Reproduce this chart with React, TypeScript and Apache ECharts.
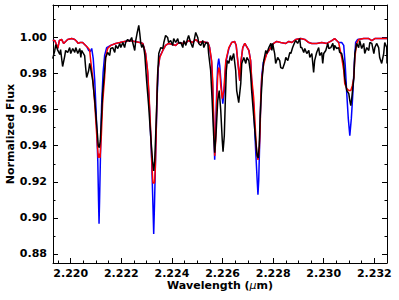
import React, { useEffect, useRef } from "react";
import * as echarts from "echarts";

// ---- data ----
const obsWave = [
  2.21929, 2.21937, 2.21941, 2.21949, 2.21957, 2.2196, 2.21968, 2.21976, 2.2198, 2.21988,
  2.21996, 2.22, 2.22008, 2.22016, 2.2202, 2.22028, 2.22036, 2.2204, 2.22043, 2.22055,
  2.22059, 2.22063, 2.22071, 2.22075, 2.22079, 2.22087, 2.22095, 2.22103, 2.22109, 2.22113,
  2.22117, 2.22122, 2.22126, 2.22134, 2.22138, 2.22146, 2.22154, 2.22158, 2.22166, 2.22174,
  2.22178, 2.22186, 2.22194, 2.22198, 2.22206, 2.22213, 2.22217, 2.22225, 2.22233, 2.22241,
  2.22245, 2.22253, 2.22257, 2.22263, 2.22269, 2.22273, 2.22277, 2.22281, 2.22285, 2.22289,
  2.22293, 2.223, 2.22308, 2.22316, 2.22324, 2.22328, 2.22332, 2.22338, 2.22344, 2.22348,
  2.22356, 2.22364, 2.22368, 2.22375, 2.22383, 2.22387, 2.22395, 2.22403, 2.22407, 2.22415,
  2.22423, 2.22427, 2.22435, 2.22443, 2.22447, 2.22455, 2.22462, 2.22466, 2.22474, 2.22482,
  2.22486, 2.22494, 2.22502, 2.22506, 2.22514, 2.22522, 2.22526, 2.22534, 2.22542, 2.22545,
  2.22553, 2.22559, 2.22565, 2.22569, 2.22575, 2.22581, 2.22587, 2.22593, 2.22599, 2.22602,
  2.22607, 2.22611, 2.22615, 2.22619, 2.22625, 2.22631, 2.22636, 2.22644, 2.22652, 2.22656,
  2.22664, 2.22672, 2.22676, 2.22684, 2.22692, 2.22696, 2.22704, 2.22711, 2.22715, 2.22723,
  2.22731, 2.22737, 2.22741, 2.22745, 2.22749, 2.22753, 2.22757, 2.22763, 2.22771, 2.22775,
  2.22783, 2.22791, 2.22795, 2.22798, 2.22806, 2.2281, 2.22818, 2.22826, 2.2283, 2.22838,
  2.22846, 2.2285, 2.22858, 2.22866, 2.2287, 2.22877, 2.22885, 2.22889, 2.22897, 2.22905,
  2.22909, 2.22913, 2.22921, 2.22925, 2.22933, 2.22941, 2.22945, 2.22953, 2.2296, 2.22964,
  2.22972, 2.2298, 2.22984, 2.22992, 2.22996, 2.23, 2.23008, 2.23016, 2.2302, 2.23028,
  2.23036, 2.2304, 2.23043, 2.23051, 2.23059, 2.23063, 2.23071, 2.23079, 2.23083, 2.23091,
  2.23099, 2.23103, 2.23107, 2.23111, 2.23119, 2.23123, 2.2313, 2.23138, 2.23142, 2.2315,
  2.23158, 2.23162, 2.2317, 2.23178, 2.23182, 2.2319, 2.23198, 2.23202, 2.23209, 2.23217,
  2.23221, 2.23229, 2.23237, 2.23241, 2.23249, 2.2325,
];
const obsFlux = [
  0.9883, 0.9928, 0.9961, 0.9928, 0.9906, 0.9933, 0.9839, 0.9894, 0.9928, 0.9917,
  0.9944, 0.9911, 0.9939, 0.9917, 0.9944, 0.9911, 0.9939, 0.9889, 0.9928, 0.99,
  0.9833, 0.9778, 0.9817, 0.9856, 0.9828, 0.9761, 0.965, 0.9511, 0.94, 0.9389,
  0.9428, 0.9567, 0.9689, 0.9817, 0.9889, 0.9917, 0.99, 0.9939, 0.9944, 0.9917,
  0.9956, 0.9939, 0.9967, 0.9944, 0.9972, 0.9944, 0.9972, 0.9989, 0.9978, 1.0,
  0.9972, 0.9928, 0.9983, 1.0028, 1.0067, 1.0022, 0.9967, 0.9944, 0.9961, 0.9944,
  0.99, 0.9761, 0.9622, 0.9456, 0.9306, 0.9261, 0.9317, 0.9539, 0.9806, 0.9911,
  0.9944, 0.9939, 0.9972, 1.0011, 1.0, 0.9972, 0.9983, 0.9956, 0.9994, 0.9972,
  0.9994, 0.9967, 0.9972, 0.9944, 0.9983, 0.9956, 0.9994, 1.0011, 0.9972, 0.9944,
  0.9972, 1.0028, 1.0, 0.9967, 0.9956, 0.9983, 0.9944, 0.9972, 0.9967, 0.9911,
  0.9817, 0.965, 0.9456, 0.9361, 0.9483, 0.965, 0.9706, 0.9594, 0.9428, 0.9367,
  0.9456, 0.965, 0.9817, 0.9872, 0.9856, 0.99, 0.9872, 0.9911, 0.9817, 0.9706,
  0.9639, 0.9744, 0.9856, 0.9889, 0.9856, 0.9889, 0.9872, 0.98, 0.9706, 0.9567,
  0.9428, 0.9344, 0.9333, 0.94, 0.9567, 0.9678, 0.9778, 0.9872, 0.9928, 0.9911,
  0.9944, 0.9967, 0.9928, 0.9967, 0.9911, 0.9856, 0.9889, 0.9872, 0.9833, 0.9828,
  0.9861, 0.9889, 0.9872, 0.9917, 0.9911, 0.9944, 0.9972, 0.9983, 0.9967, 0.9994,
  0.9944, 0.9944, 0.9917, 0.9939, 0.9911, 0.9928, 0.9889, 0.9911, 0.9806, 0.9872,
  0.9917, 0.9944, 0.99, 0.9917, 0.9856, 0.9911, 0.9928, 0.9967, 0.9939, 0.9944,
  0.9967, 0.9928, 0.9956, 0.9939, 0.9944, 0.9917, 0.9911, 0.9856, 0.9778, 0.9706,
  0.9689, 0.965, 0.9622, 0.9667, 0.9778, 0.9911, 0.9967, 0.9944, 0.9983, 0.9939,
  0.9967, 0.9911, 0.9944, 0.9928, 0.9972, 0.9967, 0.9911, 0.9944, 0.9967, 0.9944,
  0.9889, 0.9856, 0.9911, 0.9972, 0.9944, 0.9856,
];

const redWave = [
  2.21929, 2.21937, 2.21945, 2.21949, 2.21955, 2.21964, 2.21972, 2.2198, 2.21988, 2.22004,
  2.22016, 2.22024, 2.2203, 2.22036, 2.22047, 2.22055, 2.22063, 2.22071, 2.22075, 2.22079,
  2.22087, 2.22095, 2.22103, 2.22109, 2.22112, 2.22116, 2.22121, 2.22126, 2.22134, 2.22138,
  2.22146, 2.22158, 2.22178, 2.22194, 2.22213, 2.22233, 2.22253, 2.22273, 2.22285, 2.22296,
  2.22304, 2.2231, 2.22316, 2.22322, 2.22325, 2.22331, 2.22334, 2.22338, 2.2234, 2.22344,
  2.22352, 2.22364, 2.22375, 2.22387, 2.22403, 2.22415, 2.22427, 2.22443, 2.22455, 2.22466,
  2.22482, 2.22494, 2.22506, 2.22522, 2.22534, 2.22542, 2.22549, 2.22557, 2.22561, 2.22565,
  2.22569, 2.22573, 2.22577, 2.22581, 2.22585, 2.22589, 2.22593, 2.22599, 2.22605, 2.22613,
  2.22625, 2.22636, 2.22648, 2.22654, 2.2266, 2.22668, 2.22672, 2.2268, 2.22688, 2.22704,
  2.22711, 2.22715, 2.22723, 2.22729, 2.22735, 2.2274, 2.22745, 2.22749, 2.22751, 2.22755,
  2.22763, 2.22775, 2.22791, 2.22802, 2.22814, 2.2283, 2.2285, 2.22862, 2.22874, 2.22889,
  2.22909, 2.22925, 2.22941, 2.22953, 2.22972, 2.22992, 2.23012, 2.23032, 2.23043, 2.23059,
  2.23063, 2.23071, 2.23079, 2.23083, 2.23091, 2.23099, 2.23107, 2.23113, 2.23119, 2.23123,
  2.2313, 2.23138, 2.23158, 2.23178, 2.2319, 2.23202, 2.2325,
];
const redFlux = [
  0.9983, 0.9983, 0.9956, 0.9939, 0.9983, 0.9989, 0.9967, 0.9978, 0.9989, 0.9994,
  0.9989, 0.9978, 0.9967, 0.9972, 0.9972, 0.9961, 0.995, 0.9939, 0.9928, 0.9872,
  0.9778, 0.9633, 0.9456, 0.9333, 0.9356, 0.9333, 0.9456, 0.9633, 0.9778, 0.9889,
  0.9939, 0.9956, 0.9967, 0.9972, 0.9978, 0.9983, 0.9978, 0.9972, 0.9967, 0.9911,
  0.9817, 0.9667, 0.9483, 0.9261, 0.9194, 0.9194, 0.9261, 0.9483, 0.9633, 0.9817,
  0.9889, 0.9928, 0.9956, 0.9967, 0.9961, 0.9956, 0.9972, 0.9967, 0.9972, 0.9983,
  0.9972, 0.9989, 0.9972, 0.9978, 0.9972, 0.9972, 0.9944, 0.9872, 0.9761, 0.9567,
  0.9344, 0.9428, 0.965, 0.9789, 0.9833, 0.9817, 0.9733, 0.9661, 0.9706, 0.9872,
  0.9944, 0.9972, 0.9978, 0.9956, 0.9872, 0.9761, 0.9856, 0.9944, 0.9967, 0.9928,
  0.9872, 0.9778, 0.9667, 0.9511, 0.9361, 0.9322, 0.9372, 0.9511, 0.9667, 0.9778,
  0.9856, 0.9911, 0.9944, 0.9967, 0.9978, 0.9972, 0.9967, 0.9978, 0.9972, 0.9989,
  0.9994, 0.9989, 0.9972, 0.9967, 0.9967, 0.9972, 0.9967, 0.9983, 0.9994, 0.9972,
  0.9944, 0.9889, 0.9817, 0.9744, 0.9717, 0.9706, 0.9706, 0.9733, 0.9778, 0.9889,
  0.9967, 0.9989, 0.9994, 0.9994, 0.9983, 0.9994, 0.9994,
];

const blueWave = [
  2.21929, 2.21937, 2.21945, 2.21949, 2.21955, 2.21964, 2.21972, 2.2198, 2.21988, 2.22004,
  2.22016, 2.22024, 2.2203, 2.22036, 2.22047, 2.22055, 2.22063, 2.22071, 2.22077, 2.22083,
  2.22089, 2.22095, 2.22101, 2.22107, 2.2211, 2.22112, 2.22114, 2.22118, 2.22122, 2.22128,
  2.22134, 2.22142, 2.22158, 2.22178, 2.22194, 2.22213, 2.22233, 2.22253, 2.22273, 2.22285,
  2.22296, 2.22304, 2.22312, 2.2232, 2.22325, 2.22328, 2.22331, 2.22336, 2.22341, 2.22346,
  2.22352, 2.22364, 2.22375, 2.22387, 2.22403, 2.22415, 2.22427, 2.22443, 2.22455, 2.22466,
  2.22482, 2.22494, 2.22506, 2.22522, 2.22534, 2.22542, 2.22549, 2.22557, 2.22561, 2.22565,
  2.22569, 2.22573, 2.22577, 2.22581, 2.22585, 2.22589, 2.22595, 2.22601, 2.22607, 2.22613,
  2.22625, 2.22636, 2.22648, 2.22654, 2.2266, 2.22668, 2.22672, 2.2268, 2.22688, 2.22704,
  2.22711, 2.22715, 2.22723, 2.22731, 2.22737, 2.2274, 2.22743, 2.22747, 2.22751, 2.22755,
  2.22761, 2.22775, 2.22791, 2.22802, 2.22814, 2.2283, 2.2285, 2.22862, 2.22874, 2.22889,
  2.22909, 2.22925, 2.22941, 2.22953, 2.22972, 2.22992, 2.23012, 2.23032, 2.23043, 2.23059,
  2.23071, 2.23079, 2.23085, 2.23091, 2.23097, 2.23103, 2.23109, 2.23115, 2.23121, 2.23126,
  2.23134, 2.23158, 2.23178, 2.2319, 2.23202, 2.2325,
];
const blueFlux = [
  0.9983, 0.9983, 0.9956, 0.9939, 0.9983, 0.9989, 0.9967, 0.9978, 0.9989, 0.9994,
  0.9989, 0.9978, 0.9967, 0.9972, 0.9972, 0.9961, 0.995, 0.9928, 0.9922, 0.9939,
  0.9883, 0.9761, 0.9567, 0.9317, 0.9094, 0.8967, 0.9094, 0.9372, 0.9622, 0.9806,
  0.99, 0.9944, 0.9956, 0.9967, 0.9972, 0.9978, 0.9983, 0.9978, 0.9972, 0.9967,
  0.9911, 0.9806, 0.9594, 0.9317, 0.9067, 0.8911, 0.9067, 0.9372, 0.965, 0.9828,
  0.9894, 0.9928, 0.9956, 0.9967, 0.9961, 0.9956, 0.9972, 0.9967, 0.9972, 0.9983,
  0.9972, 0.9989, 0.9972, 0.9978, 0.9972, 0.9972, 0.9944, 0.9861, 0.9733, 0.9511,
  0.9322, 0.9483, 0.9706, 0.9844, 0.9883, 0.9844, 0.9733, 0.9633, 0.9706, 0.9861,
  0.9939, 0.9972, 0.9978, 0.9956, 0.9872, 0.9761, 0.9856, 0.9944, 0.9967, 0.9928,
  0.9872, 0.9761, 0.9622, 0.9372, 0.9206, 0.9128, 0.9206, 0.9428, 0.965, 0.9789,
  0.9861, 0.9911, 0.9944, 0.9967, 0.9978, 0.9972, 0.9967, 0.9978, 0.9972, 0.9989,
  0.9994, 0.9989, 0.9972, 0.9967, 0.9967, 0.9972, 0.9967, 0.9983, 0.9994, 0.9972,
  0.9972, 0.9956, 0.9844, 0.9689, 0.955, 0.9456, 0.955, 0.9689, 0.9861, 0.9972,
  0.9989, 0.9994, 0.9994, 0.9983, 0.9994, 0.9994,
];

const xMajorTicks = [2.22, 2.222, 2.224, 2.226, 2.228, 2.23, 2.232];
const xMinorTicks = [
  2.2195, 2.2205, 2.221, 2.2215, 2.2225, 2.223, 2.2235, 2.2245, 2.225, 2.2255,
  2.2265, 2.227, 2.2275, 2.2285, 2.229, 2.2295, 2.2305, 2.231, 2.2315,
];
const yMajorTicks = [0.88, 0.9, 0.92, 0.94, 0.96, 0.98, 1.0];
const yMinorTicks = [0.89, 0.91, 0.93, 0.95, 0.97, 0.99, 1.01];

const X_MIN = 2.2193;
const X_MAX = 2.2325;
const Y_MIN = 0.875;
const Y_MAX = 1.018;

const FONT = "DejaVu Sans";

function zip(a: number[], b: number[]) {
  return a.map((v, i) => [v, b[i]]);
}

export default function App() {
  const ref = useRef<HTMLDivElement>(null);
  useEffect(() => {
    if (!ref.current) return;
    const chart = echarts.init(ref.current, undefined, { renderer: "svg" });
    const gridRect = { left: 53, top: 5, width: 334, height: 258, containLabel: false, outerBoundsMode: "none" };
    const labelStyle = { color: "#000", fontFamily: FONT, fontWeight: "bold" as const, fontSize: 11 };

    const xAx = (gridIndex: number, position: string, ticks: number[], len: number, labels: boolean, line: boolean, extra: any = {}) => ({
      type: "value",
      gridIndex,
      position,
      min: X_MIN,
      max: X_MAX,
      axisLine: { show: line, onZero: false, lineStyle: { color: "#000", width: 1 } },
      axisTick: { show: true, inside: true, length: len, customValues: ticks, lineStyle: { color: "#000", width: 1 } },
      axisLabel: labels
        ? { show: true, customValues: ticks, margin: 5, formatter: (v: number) => v.toFixed(3), ...labelStyle }
        : { show: false },
      splitLine: { show: false },
      ...extra,
    });
    const yAx = (gridIndex: number, position: string, ticks: number[], len: number, labels: boolean, line: boolean, extra: any = {}) => ({
      type: "value",
      gridIndex,
      position,
      min: Y_MIN,
      max: Y_MAX,
      axisLine: { show: line, onZero: false, lineStyle: { color: "#000", width: 1 } },
      axisTick: { show: true, inside: true, length: len, customValues: ticks, lineStyle: { color: "#000", width: 1 } },
      axisLabel: labels
        ? { show: true, customValues: ticks, margin: 6, formatter: (v: number) => v.toFixed(2), ...labelStyle }
        : { show: false },
      splitLine: { show: false },
      ...extra,
    });

    chart.setOption({
      animation: false,
      backgroundColor: "#fff",
      grid: [gridRect, gridRect, gridRect, gridRect],
      xAxis: [
        xAx(0, "bottom", xMajorTicks, 5, true, true, {
          name: "Wavelength ({m|μ}m)",
          nameLocation: "middle",
          nameGap: 17,
          nameMoveOverlap: false,
          nameTextStyle: {
            ...labelStyle,
            rich: { m: { fontFamily: FONT, fontStyle: "italic", fontWeight: "normal", fontSize: 11, color: "#000" } },
          },
        }),
        xAx(1, "top", xMajorTicks, 5, false, true),
        xAx(2, "bottom", xMinorTicks, 2.5, false, false),
        xAx(3, "top", xMinorTicks, 2.5, false, false),
      ],
      yAxis: [
        yAx(0, "left", yMajorTicks, 5, true, true, {
          name: "Normalized Flux",
          nameLocation: "middle",
          nameGap: 37,
          nameMoveOverlap: false,
          nameTextStyle: { ...labelStyle },
        }),
        yAx(1, "right", yMajorTicks, 5, false, true),
        yAx(2, "left", yMinorTicks, 2.5, false, false),
        yAx(3, "right", yMinorTicks, 2.5, false, false),
      ],
      series: [
        {
          type: "line",
          xAxisIndex: 0,
          yAxisIndex: 0,
          data: zip(blueWave, blueFlux),
          showSymbol: false,
          symbol: "none",
          lineStyle: { color: "#0000ff", width: 1.5 },
          itemStyle: { color: "#0000ff" },
        },
        {
          type: "line",
          xAxisIndex: 0,
          yAxisIndex: 0,
          data: zip(redWave, redFlux),
          showSymbol: false,
          symbol: "none",
          lineStyle: { color: "#ff0000", width: 1.5 },
          itemStyle: { color: "#ff0000" },
        },
        {
          type: "line",
          xAxisIndex: 0,
          yAxisIndex: 0,
          data: zip(obsWave, obsFlux),
          showSymbol: false,
          symbol: "none",
          lineStyle: { color: "#000000", width: 1.5 },
          itemStyle: { color: "#000000" },
        },
      ],
    });
    return () => chart.dispose();
  }, []);
  return (
    <div
      ref={ref}
      style={{ position: "fixed", left: 0, top: 0, width: 399, height: 300, background: "#fff" }}
    />
  );
}
